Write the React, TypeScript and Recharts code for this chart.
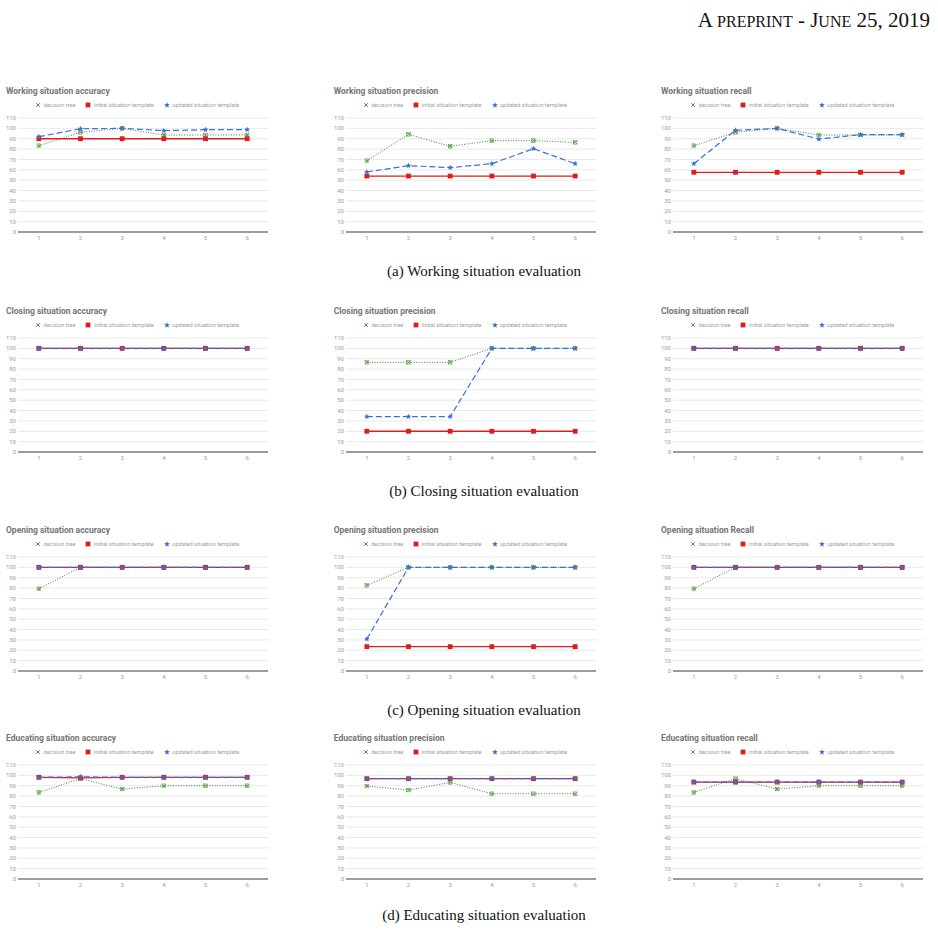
import { LineChart, Line, XAxis, YAxis, CartesianGrid } from 'recharts'

const runs = ['1', '2', '3', '4', '5', '6']
const yTicks = [0, 10, 20, 30, 40, 50, 60, 70, 80, 90, 100, 110]

// working situation
const workingAccuracyTree = [83.3, 96.2, 100, 93.6, 93.6, 93.6]
const workingAccuracyInitial = [90, 90, 90, 90, 90, 90]
const workingAccuracyUpdated = [92, 99.6, 100, 97.8, 98.7, 98.7]
const workingPrecisionTree = [68.8, 94.2, 82.7, 88.1, 88.1, 86.5]
const workingPrecisionInitial = [54, 54, 54, 54, 54, 54]
const workingPrecisionUpdated = [57.9, 64, 62.1, 65.9, 80.4, 65.9]
const workingRecallTree = [83.3, 96.2, 100, 93.6, 93.6, 93.6]
const workingRecallInitial = [57.6, 57.6, 57.6, 57.6, 57.6, 57.6]
const workingRecallUpdated = [65.9, 98.1, 100, 89.7, 93.9, 93.9]

// closing situation
const closingAccuracyTree = [100, 100, 100, 100, 100, 100]
const closingAccuracyInitial = [100, 100, 100, 100, 100, 100]
const closingAccuracyUpdated = [100, 100, 100, 100, 100, 100]
const closingPrecisionTree = [86.5, 86.5, 86.5, 100, 100, 100]
const closingPrecisionInitial = [20, 20, 20, 20, 20, 20]
const closingPrecisionUpdated = [34.1, 34.1, 34.1, 100, 100, 100]
const closingRecallTree = [100, 100, 100, 100, 100, 100]
const closingRecallInitial = [100, 100, 100, 100, 100, 100]
const closingRecallUpdated = [100, 100, 100, 100, 100, 100]

// opening situation
const openingAccuracyTree = [79.4, 100, 100, 100, 100, 100]
const openingAccuracyInitial = [100, 100, 100, 100, 100, 100]
const openingAccuracyUpdated = [100, 100, 100, 100, 100, 100]
const openingPrecisionTree = [82.6, 100, 100, 100, 100, 100]
const openingPrecisionInitial = [23.5, 23.5, 23.5, 23.5, 23.5, 23.5]
const openingPrecisionUpdated = [30.9, 100, 100, 100, 100, 100]
const openingRecallTree = [79.4, 100, 100, 100, 100, 100]
const openingRecallInitial = [100, 100, 100, 100, 100, 100]
const openingRecallUpdated = [100, 100, 100, 100, 100, 100]

// educating situation
const educatingAccuracyTree = [83.5, 96.8, 86.8, 90, 90, 90]
const educatingAccuracyInitial = [98.1, 97.6, 98.1, 98.1, 98.1, 98.1]
const educatingAccuracyUpdated = [98.1, 98.6, 98.1, 98.1, 98.1, 98.1]
const educatingPrecisionTree = [89.7, 85.8, 93.2, 82.3, 82.3, 82.3]
const educatingPrecisionInitial = [96.8, 96.8, 96.8, 96.8, 96.8, 96.8]
const educatingPrecisionUpdated = [96.8, 96.8, 96.8, 96.8, 96.8, 96.8]
const educatingRecallTree = [83.5, 96.8, 86.8, 90, 90, 90]
const educatingRecallInitial = [93.5, 93.5, 93.5, 93.5, 93.5, 93.5]
const educatingRecallUpdated = [93.5, 93.5, 93.5, 93.5, 93.5, 93.5]

const rowTitles = [
  '(a) Working situation evaluation',
  '(b) Closing situation evaluation',
  '(c) Opening situation evaluation',
  '(d) Educating situation evaluation',
]

const GREEN = '#3d8a2c'
const RED = '#dd1c1c'
const BLUE = '#3b6fd8'

const COL_X = [0, 327.7, 655]
const PLOT_TOP = [118.3, 338.3, 557.3, 765.3]
const CAPTION_Y = [271, 491, 710, 915]
const PLOT_W = 250
const HALF_BAND = PLOT_W / runs.length / 2

interface PanelSpec {
  title: string
  tree: number[]
  initial: number[]
  updated: number[]
}

const panels: PanelSpec[][] = [
  [
    { title: 'Working situation accuracy', tree: workingAccuracyTree, initial: workingAccuracyInitial, updated: workingAccuracyUpdated },
    { title: 'Working situation precision', tree: workingPrecisionTree, initial: workingPrecisionInitial, updated: workingPrecisionUpdated },
    { title: 'Working situation recall', tree: workingRecallTree, initial: workingRecallInitial, updated: workingRecallUpdated },
  ],
  [
    { title: 'Closing situation accuracy', tree: closingAccuracyTree, initial: closingAccuracyInitial, updated: closingAccuracyUpdated },
    { title: 'Closing situation precision', tree: closingPrecisionTree, initial: closingPrecisionInitial, updated: closingPrecisionUpdated },
    { title: 'Closing situation recall', tree: closingRecallTree, initial: closingRecallInitial, updated: closingRecallUpdated },
  ],
  [
    { title: 'Opening situation accuracy', tree: openingAccuracyTree, initial: openingAccuracyInitial, updated: openingAccuracyUpdated },
    { title: 'Opening situation precision', tree: openingPrecisionTree, initial: openingPrecisionInitial, updated: openingPrecisionUpdated },
    { title: 'Opening situation Recall', tree: openingRecallTree, initial: openingRecallInitial, updated: openingRecallUpdated },
  ],
  [
    { title: 'Educating situation accuracy', tree: educatingAccuracyTree, initial: educatingAccuracyInitial, updated: educatingAccuracyUpdated },
    { title: 'Educating situation precision', tree: educatingPrecisionTree, initial: educatingPrecisionInitial, updated: educatingPrecisionUpdated },
    { title: 'Educating situation recall', tree: educatingRecallTree, initial: educatingRecallInitial, updated: educatingRecallUpdated },
  ],
]

function starPath(cx: number, cy: number, r: number) {
  const pts: string[] = []
  for (let i = 0; i < 10; i++) {
    const rad = i % 2 === 0 ? r : r * 0.45
    const a = -Math.PI / 2 + (i * Math.PI) / 5
    pts.push(`${(cx + rad * Math.cos(a)).toFixed(2)},${(cy + rad * Math.sin(a)).toFixed(2)}`)
  }
  return `M${pts.join('L')}Z`
}

const crossDot = (p: any) => (
  <g key={`x${p.index}`}>
    <rect x={p.cx - 1.8} y={p.cy - 1.8} width={3.6} height={3.6} fill="none" stroke={GREEN} strokeWidth={0.5} />
    <path d={`M${p.cx - 1.5},${p.cy - 1.5}L${p.cx + 1.5},${p.cy + 1.5}M${p.cx + 1.5},${p.cy - 1.5}L${p.cx - 1.5},${p.cy + 1.5}`} stroke={GREEN} strokeWidth={0.9} />
  </g>
)

const squareDot = (p: any) => (
  <rect key={`s${p.index}`} x={p.cx - 2.4} y={p.cy - 2.4} width={4.8} height={4.8} fill={RED} />
)

const starDot = (p: any) => <path key={`t${p.index}`} d={starPath(p.cx, p.cy, 3)} fill={BLUE} />

function LegendMark({ kind }: { kind: 'x' | 'sq' | 'star' }) {
  return (
    <svg width={6} height={6} style={{ display: 'block' }}>
      {kind === 'x' && <path d="M1.2,1.2L4.8,4.8M4.8,1.2L1.2,4.8" stroke={GREEN} strokeWidth={0.9} />}
      {kind === 'sq' && <rect x={0.6} y={0.6} width={4.8} height={4.8} fill={RED} />}
      {kind === 'star' && <path d={starPath(3, 3.2, 3)} fill={BLUE} />}
    </svg>
  )
}

function Panel({ spec, left, plotTop }: { spec: PanelSpec; left: number; plotTop: number }) {
  const rows = runs.map((run, i) => ({
    run,
    tree: spec.tree[i],
    initial: spec.initial[i],
    updated: spec.updated[i],
  }))
  const top = plotTop - 32
  const legendItem = (kind: 'x' | 'sq' | 'star', label: string) => (
    <div style={{ display: 'flex', alignItems: 'center', gap: 2.5 }}>
      <LegendMark kind={kind} />
      <span>{label}</span>
    </div>
  )
  return (
    <div style={{ position: 'absolute', left, top, width: 280, height: 150 }}>
      <div
        style={{
          position: 'absolute',
          left: 6,
          top: 0,
          fontSize: 8.5,
          lineHeight: '10px',
          fontWeight: 700,
          color: '#757575',
          whiteSpace: 'nowrap',
        }}
      >
        {spec.title}
      </div>
      <div
        style={{
          position: 'absolute',
          left: 35,
          top: 15.5,
          display: 'flex',
          gap: 10,
          fontSize: 5.6,
          lineHeight: '6px',
          color: '#9e9e9e',
          whiteSpace: 'nowrap',
        }}
      >
        {legendItem('x', 'decision tree')}
        {legendItem('sq', 'initial situation template')}
        {legendItem('star', 'updated situation template')}
      </div>
      <div style={{ position: 'absolute', left: 0, top: 27 }}>
        <LineChart width={18 + PLOT_W + 2} height={133} data={rows} margin={{ top: 5, right: 2, left: 0, bottom: 0 }}>
          <CartesianGrid vertical={false} stroke="#e3e3e3" strokeWidth={0.8} />
          <XAxis
            dataKey="run"
            height={14}
            padding={{ left: HALF_BAND, right: HALF_BAND }}
            axisLine={{ stroke: '#444', strokeWidth: 1 }}
            tickLine={false}
            tickSize={0}
            tickMargin={4}
            tick={{ fontSize: 6, fill: '#9e9e9e' }}
          />
          <YAxis
            domain={[0, 110]}
            ticks={yTicks}
            interval={0}
            width={18}
            axisLine={false}
            tickLine={false}
            tickSize={0}
            tickMargin={2}
            tick={{ fontSize: 6, fill: '#9e9e9e' }}
          />
          <Line
            dataKey="tree"
            stroke={GREEN}
            strokeWidth={1}
            strokeDasharray="1 1.6"
            dot={crossDot}
            activeDot={false}
            isAnimationActive={false}
          />
          <Line
            dataKey="initial"
            stroke={RED}
            strokeWidth={1.3}
            dot={squareDot}
            activeDot={false}
            isAnimationActive={false}
          />
          <Line
            dataKey="updated"
            stroke={BLUE}
            strokeWidth={1.2}
            strokeDasharray="6 3"
            dot={starDot}
            activeDot={false}
            isAnimationActive={false}
          />
        </LineChart>
      </div>
    </div>
  )
}

const caps = { fontSize: 16 }

export default function App() {
  return (
    <div style={{ position: 'relative', width: 938, height: 933, background: '#fff', fontFamily: 'Roboto, sans-serif' }}>
      <style>{'body{margin:0}'}</style>
      <div
        style={{
          position: 'absolute',
          right: 8,
          top: 8,
          fontFamily: '"Liberation Serif", serif',
          fontSize: 21,
          lineHeight: '24px',
          color: '#111',
          whiteSpace: 'nowrap',
        }}
      >
        A <span style={caps}>PREPRINT</span> - J<span style={caps}>UNE</span> 25, 2019
      </div>
      {panels.map((row, r) =>
        row.map((spec, c) => <Panel key={`${r}-${c}`} spec={spec} left={COL_X[c]} plotTop={PLOT_TOP[r]} />)
      )}
      {rowTitles.map((t, r) => (
        <div
          key={t}
          style={{
            position: 'absolute',
            left: 484,
            top: CAPTION_Y[r] - 9,
            transform: 'translateX(-50%)',
            fontFamily: '"Liberation Serif", serif',
            fontSize: 15,
            lineHeight: '18px',
            color: '#111',
            whiteSpace: 'nowrap',
          }}
        >
          {t}
        </div>
      ))}
    </div>
  )
}
